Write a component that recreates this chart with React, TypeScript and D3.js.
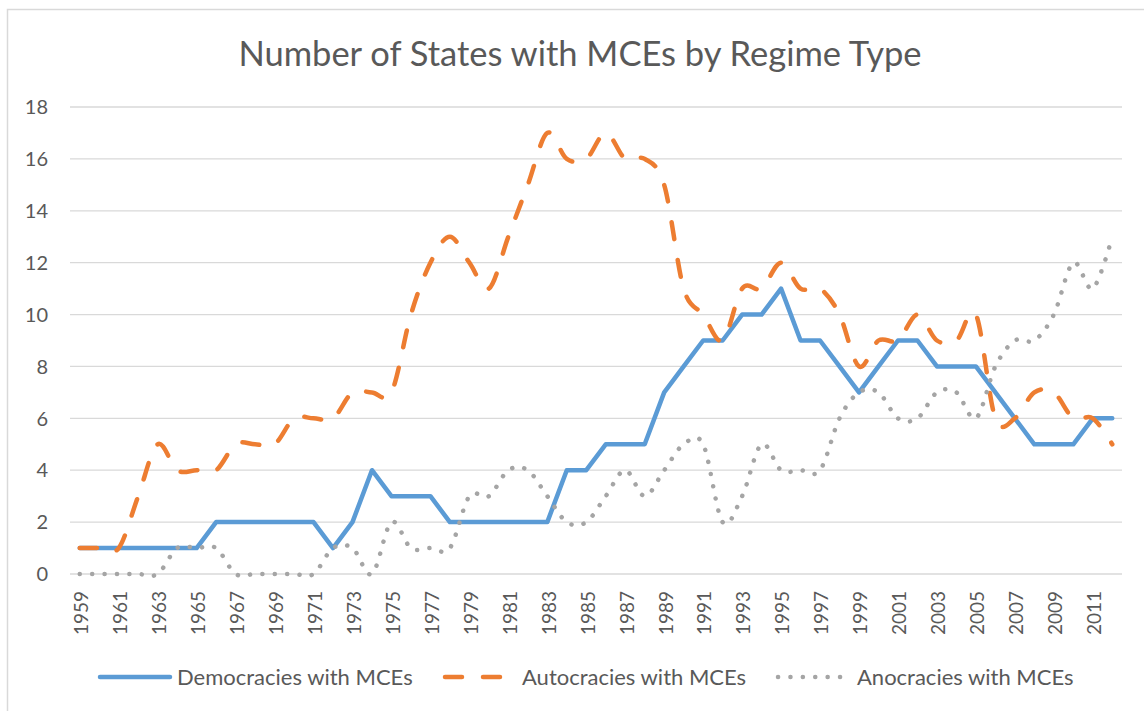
import React from "react";
import * as d3 from "d3";

const title = "Number of States with MCEs by Regime Type";

const years = [
  1959, 1960, 1961, 1962, 1963, 1964, 1965, 1966, 1967, 1968,
  1969, 1970, 1971, 1972, 1973, 1974, 1975, 1976, 1977, 1978,
  1979, 1980, 1981, 1982, 1983, 1984, 1985, 1986, 1987, 1988,
  1989, 1990, 1991, 1992, 1993, 1994, 1995, 1996, 1997, 1998,
  1999, 2000, 2001, 2002, 2003, 2004, 2005, 2006, 2007, 2008,
  2009, 2010, 2011, 2012,
];

const democracies = [
  1, 1, 1, 1, 1, 1, 1, 2, 2, 2,
  2, 2, 2, 1, 2, 4, 3, 3, 3, 2,
  2, 2, 2, 2, 2, 4, 4, 5, 5, 5,
  7, 8, 9, 9, 10, 10, 11, 9, 9, 8,
  7, 8, 9, 9, 8, 8, 8, 7, 6, 5,
  5, 5, 6, 6,
];

const autocracies = [
  1, 1, 1, 3, 5, 4, 4, 4, 5, 5,
  5, 6, 6, 6, 7, 7, 7, 10, 12, 13,
  12, 11, 13, 15, 17, 16, 16, 17, 16, 16,
  15, 11, 10, 9, 11, 11, 12, 11, 11, 10,
  8, 9, 9, 10, 9, 9, 10, 6, 6, 7,
  7, 6, 6, 5,
];

const anocracies = [
  0, 0, 0, 0, 0, 1, 1, 1, 0, 0,
  0, 0, 0, 1, 1, 0, 2, 1, 1, 1,
  3, 3, 4, 4, 3, 2, 2, 3, 4, 3,
  4, 5, 5, 2, 3, 5, 4, 4, 4, 6,
  7, 7, 6, 6, 7, 7, 6, 8, 9, 9,
  10, 12, 11, 13,
];

const yTicks = [0, 2, 4, 6, 8, 10, 12, 14, 16, 18];

const seriesNames = [
  "Democracies with MCEs",
  "Autocracies with MCEs",
  "Anocracies with MCEs",
];

const W = 1144;
const H = 711;
const textColor = "#595959";
const gridColor = "#D9D9D9";
const font = "Lato, 'Open Sans', sans-serif";

export default function App() {
  const x = d3.scaleBand<number>().domain(years).range([70, 1122]);
  const cx = (yr: number) => (x(yr) as number) + x.bandwidth() / 2;
  const y = d3.scaleLinear().domain([0, 18]).range([574, 107]);

  const linear = d3
    .line<number>()
    .x((_, i) => cx(years[i]))
    .y((v) => y(v))
    .curve(d3.curveLinear);
  const smooth = d3
    .line<number>()
    .x((_, i) => cx(years[i]))
    .y((v) => y(v))
    .curve(d3.curveCatmullRom.alpha(0));

  const series = [
    {
      name: seriesNames[0],
      d: linear(democracies),
      color: "#5B9BD5",
      dash: undefined as string | undefined,
      lx: [100, 170],
      tx: 177,
    },
    {
      name: seriesNames[1],
      d: smooth(autocracies),
      color: "#ED7D31",
      dash: "17 21",
      lx: [445, 507],
      tx: 522,
    },
    {
      name: seriesNames[2],
      d: smooth(anocracies),
      color: "#A5A5A5",
      dash: "0.1 12.3",
      lx: [778, 843],
      tx: 857,
    },
  ];

  const legendY = 677;

  return (
    <svg
      width={W}
      height={H}
      style={{ position: "absolute", left: 0, top: 0, background: "#fff" }}
      fontFamily={font}
    >
      <rect x={0} y={0} width={W} height={H} fill="#fff" />
      <rect
        x={7.5}
        y={9.5}
        width={W + 20}
        height={H + 20}
        fill="none"
        stroke={gridColor}
        strokeWidth={1.5}
      />
      <text
        x={580}
        y={66}
        textAnchor="middle"
        fontSize={34.5}
        fill={textColor}
      >
        {title}
      </text>

      {yTicks.map((t) => (
        <g key={t}>
          <line
            x1={70}
            x2={1122}
            y1={y(t)}
            y2={y(t)}
            stroke={gridColor}
            strokeWidth={1.3}
          />
          <text
            x={48}
            y={y(t)}
            dy="0.36em"
            textAnchor="end"
            fontSize={20}
            fill={textColor}
          >
            {t}
          </text>
        </g>
      ))}

      {years
        .filter((_, i) => i % 2 === 0)
        .map((yr) => (
          <text
            key={yr}
            transform={`translate(${cx(yr) + 1.5},591) rotate(-90)`}
            dy="0.36em"
            textAnchor="end"
            fontSize={19}
            fill={textColor}
          >
            {yr}
          </text>
        ))}

      {series.map((s) => (
        <path
          key={s.name}
          d={s.d || ""}
          fill="none"
          stroke={s.color}
          strokeWidth={4.5}
          strokeDasharray={s.dash}
          strokeLinecap="round"
          strokeLinejoin="round"
        />
      ))}

      {series.map((s) => (
        <g key={"lg" + s.name}>
          <line
            x1={s.lx[0]}
            x2={s.lx[1]}
            y1={legendY}
            y2={legendY}
            stroke={s.color}
            strokeWidth={4.5}
            strokeDasharray={s.dash}
            strokeLinecap="round"
          />
          <text
            x={s.tx}
            y={legendY}
            dy="0.36em"
            fontSize={22}
            fill={textColor}
          >
            {s.name}
          </text>
        </g>
      ))}
    </svg>
  );
}
